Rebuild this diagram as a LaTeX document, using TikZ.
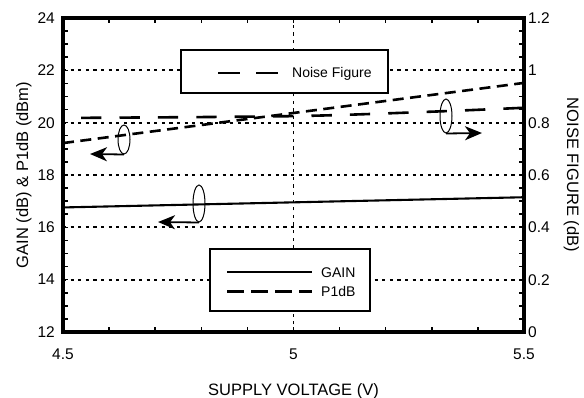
\documentclass[tikz,border=0pt]{standalone}
\usepackage{fontspec}
\setmainfont{Liberation Sans}
\usetikzlibrary{shapes.geometric}
\usetikzlibrary{arrows.meta}

\begin{document}
\begin{tikzpicture}[x=1pt,y=1pt,
    frame/.style={line width=3.2pt},
    gridline/.style={line width=1.8pt,dash pattern=on 3.2pt off 4.4pt},
    tickmark/.style={line width=1.5pt},
    gaincurve/.style={line width=2.1pt},
    p1curve/.style={line width=2.6pt,dash pattern=on 11pt off 6.5pt},
    nfcurve/.style={line width=2.6pt,dash pattern=on 20.3pt off 18.1pt},
    keybox/.style={draw,line width=2.2pt,fill=white,inner sep=0pt},
    ring/.style={draw,ellipse,inner sep=0pt,minimum width=12pt,line width=1pt},
    pointer/.style={line width=1.8pt,-{Stealth[length=17pt,width=14pt,inset=5pt]}},
    ticklabel/.style={font=\fontsize{15.5}{18}\selectfont,inner sep=0pt},
    keylabel/.style={font=\fontsize{14}{16}\selectfont,inner sep=0pt,anchor=base west},
    axislabel/.style={font=\fontsize{16.5}{19}\selectfont,inner sep=0pt,anchor=base}]
  \useasboundingbox (0,0) rectangle (584,397);

  % data frame: x in V, y in dB
  \begin{scope}[x=461pt,y=26.1667pt,xshift=-2011.5pt,yshift=-249pt]
    \foreach \d in {14,16,...,22}
      \draw[gridline] (4.5,\d) -- (5.5,\d);
    \draw[gridline] (5,12) -- (5,24);
    \foreach \v in {4.6,4.7,...,5.45}{
      \draw[tickmark] (\v,12) -- ++(0,5pt);
      \draw[tickmark] (\v,24) -- ++(0,-5pt);
    }
    \foreach \d in {12.5,13,...,23.6}{
      \draw[tickmark] (4.5,\d) -- ++(5pt,0);
      \draw[tickmark] (5.5,\d) -- ++(-5pt,0);
    }
    \foreach \d in {12,14,...,24}
      \node[ticklabel,anchor=east,xshift=-8pt] (left\d) at (4.5,\d) {\d};
    \foreach \d/\n in {12/0,14/0.2,16/0.4,18/0.6,20/0.8,22/1,24/1.2}
      \node[ticklabel,anchor=west,xshift=4pt] (right\d) at (5.5,\d) {\n};
    \foreach \v [count=\i] in {4.5,5,5.5}
      \node[ticklabel,anchor=base,yshift=-27pt] (volt\i) at (\v,12) {\v};
  \end{scope}

  \node[keybox,minimum width=207pt,minimum height=43pt] (nfkey) at (284.5,325.5) {};
  \coordinate (nfa) at (218,324);
  \coordinate (nfb) at (278,324);
  \draw[nfcurve,dash pattern=on 22pt off 16pt] (nfa) -- (nfb);
  \node[keylabel] (nftext) at (292,319) {Noise Figure};

  \node[keybox,minimum width=160pt,minimum height=62pt] (curvekey) at (290,117) {};
  \coordinate (gaina) at (227,125.3);
  \coordinate (gainb) at (312,125.3);
  \coordinate (p1a) at (227,105.3);
  \coordinate (p1b) at (312,105.3);
  \draw[gaincurve] (gaina) -- (gainb);
  \draw[p1curve,dash pattern=on 17pt off 7pt] (p1a) -- (p1b);
  \node[keylabel] (gaintext) at (321,120) {GAIN};
  \node[keylabel] (p1text) at (321,101) {P1dB};

  \begin{scope}[x=461pt,y=26.1667pt,xshift=-2011.5pt,yshift=-249pt]
    \draw[gaincurve] (4.5,16.76) -- (5.5,17.15);
    \draw[p1curve] (4.5,19.22) -- (5.5,21.52);
    \draw[nfcurve,dash phase=20.3pt] plot[smooth] coordinates {(4.5,20.18) (5.0,20.25) (5.3,20.42) (5.5,20.57)};
    \draw[frame] (4.5,12) rectangle (5.5,24);
  \end{scope}

  \node[ring,minimum height=37pt] (gainring) at (199,193.5) {};
  \node[ring,minimum height=29pt] (p1ring) at (124,257.5) {};
  \node[ring,minimum height=34pt] (nfring) at (446,281) {};
  \coordinate (gaintip) at (158,175);
  \coordinate (p1tip) at (90,243);
  \coordinate (nftip) at (482,264);
  \draw[pointer] (gainring.south) -- (gaintip);
  \draw[pointer] (p1ring.south) -- (p1tip);
  \draw[pointer] (nfring.south) -- (nftip);

  \node[axislabel] (xtitle) at (293.5,2) {SUPPLY VOLTAGE (V)};
  \node[axislabel,rotate=90] (ytitle) at (28,222) {GAIN (dB) \& P1dB (dBm)};
  \node[axislabel,rotate=-90] (nftitle) at (567,222) {NOISE FIGURE (dB)};
\end{tikzpicture}
\end{document}
